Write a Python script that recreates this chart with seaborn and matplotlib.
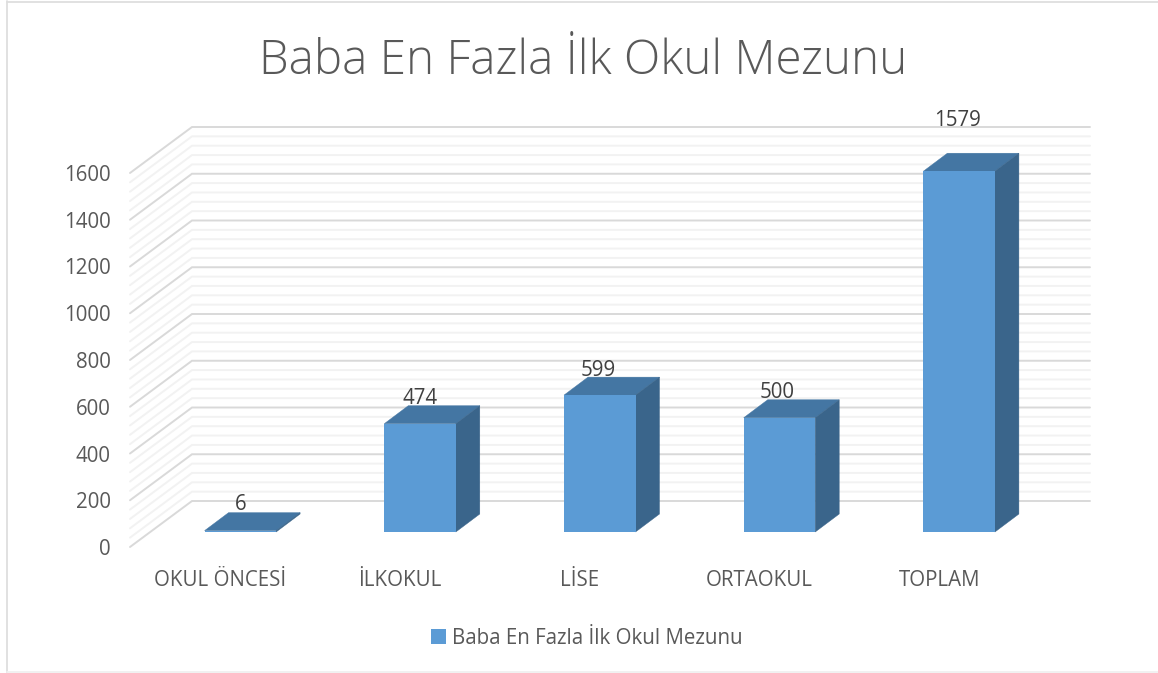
import numpy as np
import matplotlib
matplotlib.use("Agg")
import matplotlib.pyplot as plt
import seaborn as sns
from matplotlib.lines import Line2D
from matplotlib.patches import Polygon
from matplotlib.transforms import ScaledTranslation

categories = ["OKUL ÖNCESİ", "İLKOKUL", "LİSE", "ORTAOKUL", "TOPLAM"]
values = [6, 474, 599, 500, 1579]
series_name = "Baba En Fazla İlk Okul Mezunu"
y_ticks = [0, 200, 400, 600, 800, 1000, 1200, 1400, 1600]

W, H = 1158, 673
BAR = "#5b9bd5"
TOP = "#4476a3"
SIDE = "#3a658b"
FS = 14.8

sns.set_theme(style="white")
plt.rcParams["font.family"] = ["Open Sans", "DejaVu Sans"]

fig = plt.figure(figsize=(W / 100, H / 100), dpi=100, facecolor="white")


def box(left, right, top, bottom):
    # pixel box to figure fractions
    return [left / W, 1 - bottom / H, (right - left) / W, (bottom - top) / H]


# outer frame, open on the right like the screenshot
for xs, ys, c in [((7, 7), (1, 673), "#dedede"), ((7, W), (1.5, 1.5), "#dedede"), ((7, W), (672, 672), "#f0f0f0")]:
    fig.add_artist(Line2D([x / W for x in xs], [1 - y / H for y in ys], color=c, lw=1.3))

# wall with the grid, y axis scaled to the front edge
wall = fig.add_axes(box(130, 1090, 173, 547), facecolor="none", zorder=1)
wall.set_xlim(130, 1090)
wall.set_ylim(0, 1600)
wall.set_xticks([])
wall.set_yticks(y_ticks)
wall.set_yticklabels([str(t) for t in y_ticks], fontsize=FS, color="#595959")
wall.tick_params(axis="y", length=0, pad=14)
sns.despine(ax=wall, left=True, bottom=True)

depth = 1600 * 46 / 374
for level in np.arange(0, 1601, 40):
    major = level % 200 == 0
    wall.plot([130, 192, 1090], [level, level + depth, level + depth],
              color="#d9d9d9" if major else "#f2f2f2", lw=1.4, clip_on=False,
              zorder=2 if major else 1, solid_joinstyle="miter")

# bars
ax = fig.add_axes(box(150.5, 1049, 532 - 1800 * 0.2285, 532), facecolor="none", zorder=2)
sns.barplot(x=categories, y=values, color=BAR, saturation=1, width=0.398, label=series_name, ax=ax, zorder=5)
ax.set_ylim(0, 1800)
ax.set_yticks([])
sns.despine(ax=ax, left=True, bottom=True)

dx = 24 / 179.7
dy = 18 / 0.2285
for rect in ax.patches:
    x0 = rect.get_x()
    x1 = x0 + rect.get_width()
    h = rect.get_height()
    rect.set_edgecolor("none")
    ax.add_patch(Polygon([(x0, h), (x1, h), (x1 + dx, h + dy), (x0 + dx, h + dy)],
                         facecolor=TOP, edgecolor=TOP, lw=0.3, clip_on=False, zorder=4))
    ax.add_patch(Polygon([(x1, 0), (x1 + dx, dy), (x1 + dx, h + dy), (x1, h)],
                         facecolor=SIDE, edgecolor=SIDE, lw=0.3, clip_on=False, zorder=4))

# value labels, the last one sits much higher in the original
lifts = [26, 25, 25, 25, 51]
shifts = [0, 0, -1, -2, -2]
for i, v in enumerate(values):
    ax.annotate(str(v), (i, v), xytext=(shifts[i], lifts[i]), textcoords="offset pixels",
                ha="center", va="center", fontsize=FS, color="#404040", zorder=8, annotation_clip=False)

# category labels sit left of the bars
ax.set_xlabel("")
ax.tick_params(axis="x", length=0, pad=27, labelsize=FS, labelcolor="#595959")
shift = ScaledTranslation(-20 / 100, 0, fig.dpi_scale_trans)
for lab in ax.get_xticklabels():
    lab.set_transform(lab.get_transform() + shift)

fig.text(583.5 / W, 1 - 62 / H, series_name, ha="center", va="center", fontsize=34.2,
         color="#595959", fontweight="light")

ax.legend(loc="center", bbox_to_anchor=(587 / W, 1 - 638 / H), bbox_transform=fig.transFigure,
          frameon=False, fontsize=FS, labelcolor="#595959", handlelength=0.72, handleheight=0.72,
          handletextpad=0.3)

fig.savefig("out.png", dpi=100)
